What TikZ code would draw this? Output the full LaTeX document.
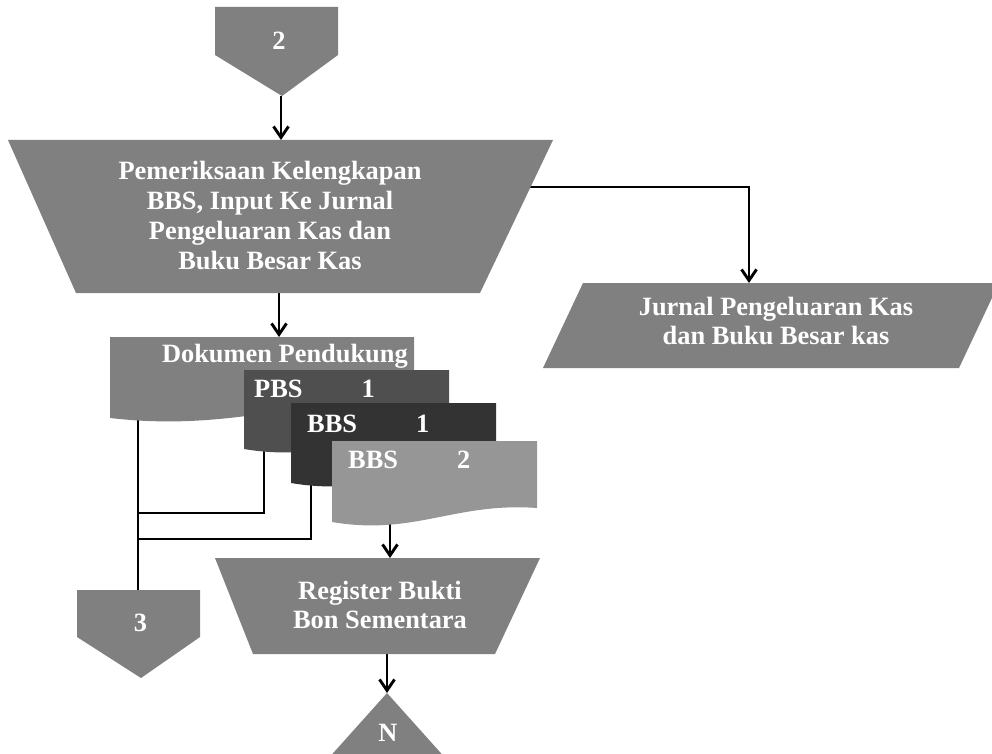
\documentclass[tikz,border=0pt]{standalone}
\usepackage{fontspec}
\setmainfont{Liberation Serif}
\usetikzlibrary{arrows.meta}

\definecolor{shapegray}{gray}{0.5}
\definecolor{pbsgray}{gray}{0.31}
\definecolor{bbsdark}{gray}{0.2}
\definecolor{bbslight}{gray}{0.59}

% document sheet with a wavy lower edge: fill, left, top, right, bottom-left
\newcommand\docsheet[5]{%
  \fill[#1] (#2,#3) -- (#4,#3) -- (#4,{#5-14})
    .. controls ({#2+0.6*(#4-#2)},{#5-20}) and ({#2+0.4*(#4-#2)},{#5+14}) .. (#2,#5) -- cycle;}

\begin{document}
\begin{tikzpicture}[x=1pt,y=-1pt,
  lbl/.style={text=white,font=\bfseries\fontsize{26.4}{29.7}\selectfont,align=center,inner sep=0pt},
  flow/.style={line width=2.9pt,draw=black},
  arr/.style={flow,-{Straight Barb[length=11pt,width=15pt]}}]

\useasboundingbox (0,0) rectangle (992,754);

% connection points
\coordinate (offTwoTip) at (281,96);
\coordinate (procTop) at (281,140);
\coordinate (procBot) at (279,293);
\coordinate (procRight) at (527,187);
\coordinate (jurnalTop) at (749,283);
\coordinate (docTop) at (279,337);
\coordinate (docFoot) at (138,410);
\coordinate (pbsFoot) at (264,440);
\coordinate (bbsOneFoot) at (311,475);
\coordinate (bbsTwoFoot) at (390,515);
\coordinate (joinA) at (138,513);
\coordinate (joinB) at (138,539);
\coordinate (offThreeTop) at (138,590);
\coordinate (regTop) at (390,558);
\coordinate (regBot) at (387,654);
\coordinate (endTop) at (387,693);

% connectors (drawn first so the shapes cover their hidden ends)
\draw[arr] (offTwoTip) -- (procTop);
\draw[arr] (procBot) -- (docTop);
\draw[arr] (procRight) -| (jurnalTop);
\draw[flow] (docFoot) -- (offThreeTop);
\draw[flow] (pbsFoot) |- (joinA);
\draw[flow] (bbsOneFoot) |- (joinB);
\draw[arr] (bbsTwoFoot) -- (regTop);
\draw[arr] (regBot) -- (endTop);

% off-page connector 2
\fill[shapegray] (215,7) -- (338,7) -- (338,55) -- (282,96) -- (215,55) -- cycle;
% manual operation
\fill[shapegray] (8,140) -- (553,140) -- (480,293) -- (76,293) -- cycle;
% journal / ledger (data)
\fill[shapegray] (583,283) -- (999,283) -- (959,368) -- (543,368) -- cycle;
% document stack
\docsheet{shapegray}{110}{337}{414}{418}
\docsheet{pbsgray}{244}{370}{449}{449}
\docsheet{bbsdark}{291}{403}{496}{483}
\docsheet{bbslight}{332}{441}{537}{522}
% off-page connector 3
\fill[shapegray] (77,590) -- (200,590) -- (200,637) -- (141,678) -- (77,637) -- cycle;
% register
\fill[shapegray] (215,558) -- (540,558) -- (495,654) -- (253,654) -- cycle;
% end marker
\fill[shapegray] (387,693) -- (465,780) -- (309,780) -- cycle;

% labels
\node[lbl] (offTwo) at (279,41) {2};
\node[lbl] (proc) at (270,215.5) {Pemeriksaan Kelengkapan\\BBS, Input Ke Jurnal\\Pengeluaran Kas dan\\Buku Besar Kas};
\node[lbl] (jurnal) at (776,321) {Jurnal Pengeluaran Kas\\dan Buku Besar kas};
\node[lbl,anchor=base east] (dok) at (408,362) {Dokumen Pendukung};
\node[lbl,anchor=base west] (pbs) at (254,397) {PBS\hspace{59pt}1};
\node[lbl,anchor=base west] (bbsOne) at (307,432) {BBS\hspace{59pt}1};
\node[lbl,anchor=base west] (bbsTwo) at (348,468) {BBS\hspace{59pt}2};
\node[lbl] (offThree) at (140.5,622.5) {3};
\node[lbl] (reg) at (380,605) {Register Bukti\\Bon Sementara};
\node[lbl] (endN) at (388,733) {N};
\end{tikzpicture}
\end{document}
